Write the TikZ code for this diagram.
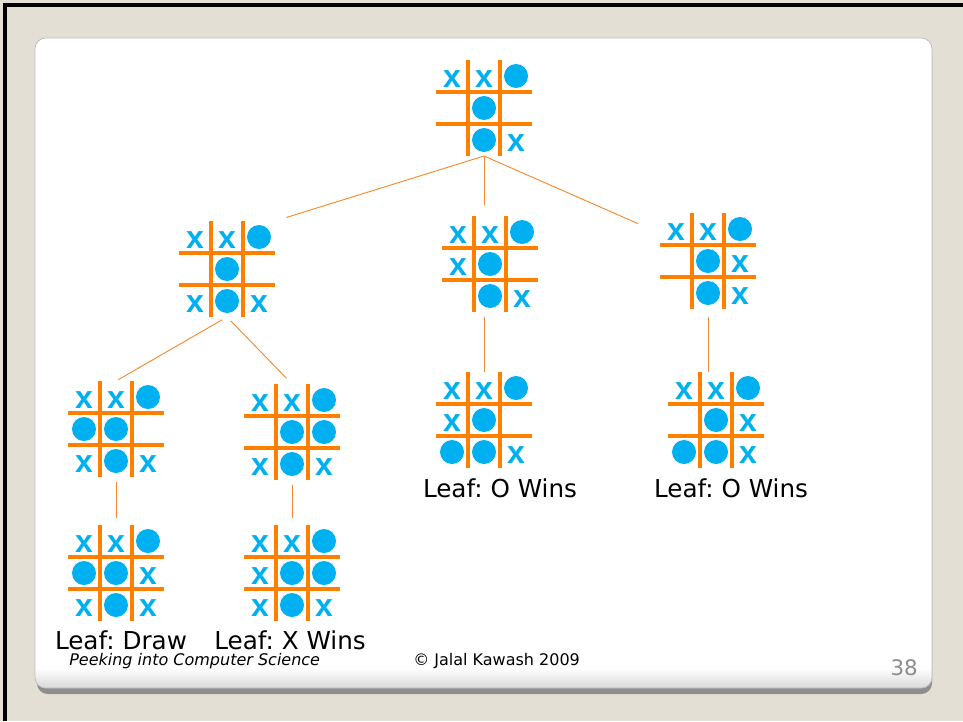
\documentclass[tikz,border=0pt]{standalone}
\usepackage{fontspec}
\setmainfont{DejaVu Sans}[ItalicFont={DejaVu Sans Oblique},BoldFont={DejaVu Sans Bold}]
\newfontfamily\markfont{Liberation Sans}[BoldFont={Liberation Sans Bold}]
\frenchspacing
\definecolor{pagebeige}{HTML}{E4DFD4}
\definecolor{panelgrey}{HTML}{BEBEBE}
\definecolor{shadowgrey}{HTML}{8E8E8E}
\definecolor{gridorange}{HTML}{FF8000}
\definecolor{branchorange}{HTML}{F58A2E}
\definecolor{markcyan}{HTML}{00B0F0}
\definecolor{pagegrey}{HTML}{8C8C8C}
\usetikzlibrary{calc}
\tikzset{
  boardbox/.style={minimum size=72pt,inner sep=0pt,outer sep=0pt},
  gridline/.style={draw=gridorange,line width=3pt},
  xmark/.style={text=markcyan,font=\markfont\bfseries\fontsize{24}{26}\selectfont,inner sep=0pt},
  omark/.style={fill=markcyan},
  branch/.style={draw=branchorange,line width=0.7pt},
  leaflabel/.style={font=\fontsize{18.5}{22}\selectfont,inner sep=0pt,anchor=base},
  footertext/.style={font=\fontsize{12}{14}\selectfont,inner sep=0pt,anchor=base west},
}
% name, centre, cells with an x, cells with an o (column/row)
\newcommand{\tttboard}[4]{%
  \node[boardbox] (#1) at (#2) {};
  \begin{scope}[shift={(#1.center)}]
    \foreach \k in {-16,16} {
      \draw[gridline] (\k,-48) -- (\k,48);
      \draw[gridline] (-48,\k) -- (48,\k);
    }
    \foreach \ci/\ri in {#3} \node[xmark] at (32*\ci-32,32*\ri-29) {x};
    \foreach \ci/\ri in {#4} \fill[omark] (32*\ci-32,32*\ri-32) circle (12);
  \end{scope}
}

\begin{document}
\begin{tikzpicture}[x=0.75pt,y=-0.75pt]
  \useasboundingbox (0,0) rectangle (963,721);
  \fill[pagebeige] (0,0) rectangle (963,721);
  \draw[black,line width=2.5pt] (5,721) -- (5,5) -- (963,5);
  \fill[shadowgrey,rounded corners=8pt] (37,46) rectangle (932,694);
  \begin{scope}
    \clip[rounded corners=8pt] (35,38) rectangle (932,688);
    \fill[white] (35,38) rectangle (932,688);
    \shade[top color=white,bottom color=black!15] (35,668) rectangle (932,688);
  \end{scope}
  \draw[panelgrey,line width=0.6pt,rounded corners=8pt] (35,38) rectangle (932,688);

  \tttboard{root}{484,108}{0/0,1/0,2/2}{2/0,1/1,1/2}
  \tttboard{l1a}{227,269}{0/0,1/0,0/2,2/2}{2/0,1/1,1/2}
  \tttboard{l1b}{490,264}{0/0,1/0,0/1,2/2}{2/0,1/1,1/2}
  \tttboard{l1c}{708,261}{0/0,1/0,2/1,2/2}{2/0,1/1,1/2}
  \tttboard{l2a}{116,429}{0/0,1/0,0/2,2/2}{2/0,0/1,1/1,1/2}
  \tttboard{l2b}{292,432}{0/0,1/0,0/2,2/2}{2/0,1/1,2/1,1/2}
  \tttboard{l2c}{484,420}{0/0,1/0,0/1,2/2}{2/0,1/1,0/2,1/2}
  \tttboard{l2d}{716,420}{0/0,1/0,2/1,2/2}{2/0,1/1,0/2,1/2}
  \tttboard{l3a}{116,573}{0/0,1/0,2/1,0/2,2/2}{2/0,0/1,1/1,1/2}
  \tttboard{l3b}{292,573}{0/0,1/0,0/1,0/2,2/2}{2/0,1/1,2/1,1/2}

  \draw[branch,shorten >=9pt] (root.south) -- (l1a.north east);
  \draw[branch,shorten >=8pt] (root.south) -- (root.south |- l1b.north);
  \draw[branch,shorten >=18pt] (root.south) -- (l1c.150);
  \draw[branch,shorten <=4pt,shorten >=2pt] (l1a.south) -- (l2a.north);
  \draw[branch,shorten <=4pt,shorten >=6pt] (l1a.south) -- (l2b.north);
  \draw[branch,shorten <=4pt] (l2c.north |- l1b.south) -- (l2c.north);
  \draw[branch,shorten <=6pt] (l1c.south) -- (l1c.south |- l2d.north);
  \draw[branch,shorten <=4pt,shorten >=5pt] (l2a.south) -- (l3a.north);
  \draw[branch,shorten <=4pt,shorten >=5pt] (l2b.south) -- (l3b.north);

  \node[leaflabel] (drawlbl) at (121,649) {Leaf: Draw};
  \node[leaflabel] (xwinlbl) at (290,649) {Leaf: X Wins};
  \node[leaflabel] (owinlbl) at (500,497) {Leaf: O Wins};
  \node[leaflabel] (owinlbl2) at (731,497) {Leaf: O Wins};
  \node[footertext,font=\fontsize{12}{14}\selectfont\itshape] (course) at (69,665) {Peeking into Computer Science};
  \node[footertext] (credit) at (413,665) {© Jalal Kawash 2009};
  \node[footertext,anchor=base east,text=pagegrey,font=\fontsize{16}{18}\selectfont] (pagenum) at (918,675) {38};
\end{tikzpicture}
\end{document}
